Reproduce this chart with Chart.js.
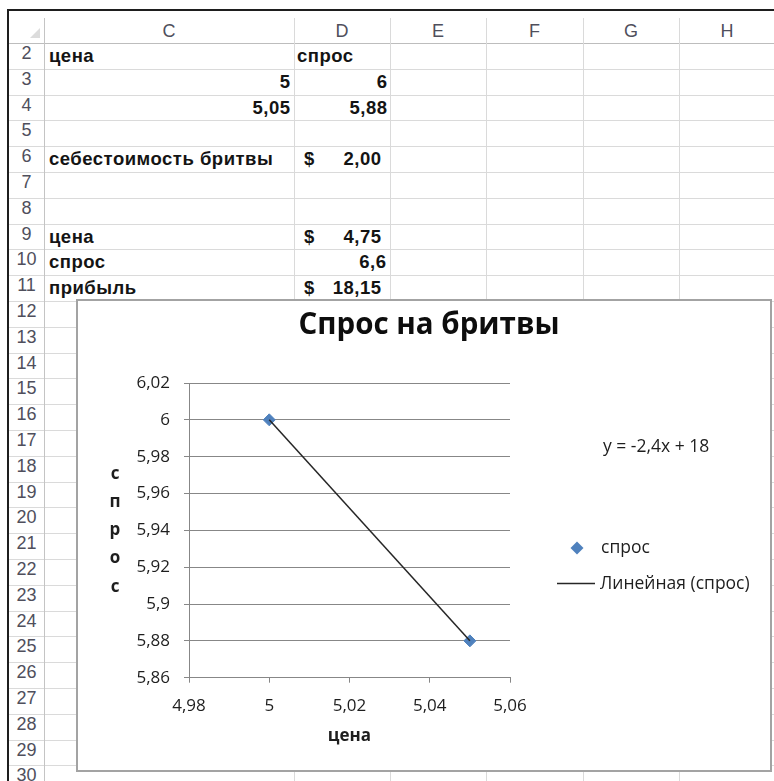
<!DOCTYPE html>
<html>
<head>
<meta charset="utf-8">
<script src="https://cdn.jsdelivr.net/npm/chart.js@4/dist/chart.umd.min.js"></script>
<style>
  html, body { margin: 0; padding: 0; background: #fff; }
  #sheet { position: relative; width: 774px; height: 781px; overflow: hidden; font-family: "Liberation Sans", Arial, sans-serif; }
  .hl { position: absolute; height: 1px; background: #dadada; }
  .vl { position: absolute; width: 1px; background: #dadada; }
  .rh { position: absolute; left: 9px; width: 35px; text-align: center; font-size: 18px; color: #4f4f5c; }
  .ch { position: absolute; top: 18px; height: 25px; line-height: 27px; text-align: center; font-size: 18px; color: #4f4f5c; }
  .cell { position: absolute; font-weight: bold; font-size: 18.5px; letter-spacing: 0.5px; color: #141414; white-space: nowrap; }
  #frameL { position: absolute; left: 7px; top: 9px; width: 2px; height: 772px; background: #1e1e1e; }
  #frameT { position: absolute; left: 7px; top: 9px; width: 767px; height: 2px; background: #1e1e1e; }
  #corner { position: absolute; left: 30px; top: 28px; width: 0; height: 0; border-left: 10px solid transparent; border-bottom: 10px solid #dcdcdc; }
  #chartBox { position: absolute; left: 76px; top: 299px; width: 696px; height: 472px; }
  #chartBox canvas { position: absolute; left: 0; top: 0; background: #fff; }
  #chartBorder { position: absolute; left: 76px; top: 299px; width: 696px; height: 473px; box-sizing: border-box; border: 2px solid #a3a3a3; pointer-events: none; }
</style>
</head>
<body>
<div id="sheet">
  <div id="grid"></div>
  <div id="frameL"></div>
  <div id="frameT"></div>
  <div id="corner"></div>
  <div id="chartBox"><canvas id="DemandChart" width="696" height="472"></canvas></div>
  <div id="chartBorder"></div>
</div>
<script>
(function () {
  "use strict";

  // chart data
  const price = [5, 5.05];
  const demand = [6, 5.88];
  const xTicks = [4.98, 5, 5.02, 5.04, 5.06];
  const yTicks = [5.86, 5.88, 5.9, 5.92, 5.94, 5.96, 5.98, 6, 6.02];
  const seriesName = 'спрос';
  const trendName = 'Линейная (спрос)';
  const chartTitle = 'Спрос на бритвы';
  const xTitle = 'цена';
  const yTitle = 'спрос';

  // sheet columns / rows
  const colNames = ['C', 'D', 'E', 'F', 'G', 'H'];
  const colEdges = [44, 294, 390, 486, 583, 679, 775];
  const firstRow = 2, lastRow = 30;
  const rowTop0 = 43, rowH = 25.8;

  // Excel style number: comma decimal
  function fmt(v) {
    return String(+v.toFixed(2)).replace('.', ',');
  }
  function money(v) {
    return v.toFixed(2).replace('.', ',');
  }

  // ---------- spreadsheet ----------
  const grid = document.getElementById('grid');
  function add(cls, css, text) {
    const d = document.createElement('div');
    d.className = cls;
    Object.assign(d.style, css);
    if (text != null) d.textContent = text;
    grid.appendChild(d);
  }
  const rowTop = r => rowTop0 + (r - firstRow) * rowH;

  add('hl', { left: '9px', top: '43px', width: '765px', background: '#bdbdbd' });
  for (let r = firstRow; r <= lastRow; r++) {
    const t = rowTop(r);
    add('hl', { left: '9px', top: Math.round(t + rowH) + 'px', width: '765px' });
    add('rh', { top: (t - 2) + 'px', height: rowH + 'px', lineHeight: rowH + 'px' }, String(r));
  }
  add('vl', { left: '44px', top: '18px', height: '763px', background: '#c4c4c4' });
  for (let i = 1; i < colEdges.length - 1; i++) {
    add('vl', { left: colEdges[i] + 'px', top: '18px', height: '763px' });
  }
  colNames.forEach((c, i) => {
    add('ch', { left: colEdges[i] + 'px', width: (colEdges[i + 1] - colEdges[i]) + 'px' }, c);
  });

  // cell text: [row, x, align, text]
  const cost = 2, bestPrice = 4.75, bestDemand = 6.6;
  const profit = (bestPrice - cost) * bestDemand;
  const cells = [
    [2, 49, 'L', 'цена'], [2, 297, 'L', 'спрос'],
    [3, 290, 'R', fmt(price[0])], [3, 387, 'R', fmt(demand[0])],
    [4, 290, 'R', fmt(price[1])], [4, 387, 'R', fmt(demand[1])],
    [6, 49, 'L', 'себестоимость бритвы'], [6, 304, 'L', '$'], [6, 381, 'R', money(cost)],
    [9, 49, 'L', 'цена'], [9, 304, 'L', '$'], [9, 381, 'R', money(bestPrice)],
    [10, 49, 'L', 'спрос'], [10, 386, 'R', fmt(bestDemand)],
    [11, 49, 'L', 'прибыль'], [11, 304, 'L', '$'], [11, 381, 'R', money(profit)]
  ];
  cells.forEach(([r, x, al, txt]) => {
    const css = { top: rowTop(r) + 'px', height: rowH + 'px', lineHeight: rowH + 'px' };
    if (al === 'L') css.left = x + 'px'; else css.right = (774 - x - 0.5) + 'px';
    add('cell', css, txt);
  });

  // ---------- chart ----------
  // least squares trendline through the series
  const n = price.length;
  const mx = price.reduce((a, b) => a + b, 0) / n;
  const my = demand.reduce((a, b) => a + b, 0) / n;
  let sxy = 0, sxx = 0;
  for (let i = 0; i < n; i++) {
    sxy += (price[i] - mx) * (demand[i] - my);
    sxx += (price[i] - mx) * (price[i] - mx);
  }
  const slope = sxy / sxx;
  const icpt = my - slope * mx;
  const trendX = [Math.min(...price), Math.max(...price)];
  const trendPts = trendX.map(x => ({ x: x, y: slope * x + icpt }));
  const eqText = 'y = ' + fmt(slope) + 'x ' + (icpt < 0 ? '- ' : '+ ') + fmt(Math.abs(icpt));

  const blue = '#4f81bd';
  const axisGray = '#878787';
  const textCol = '#1e1e1e';
  const font = '"Open Sans", "Noto Sans", sans-serif';

  // title, vertical axis caption, equation and legend
  const extras = {
    id: 'extras',
    afterDraw(chart) {
      const ctx = chart.ctx;
      const a = chart.chartArea;
      ctx.save();
      ctx.fillStyle = '#0d0d0d';
      ctx.textAlign = 'center';
      ctx.textBaseline = 'middle';
      ctx.font = 'bold 29.5px ' + font;
      ctx.fillText(chartTitle, 353, 27);

      ctx.fillStyle = textCol;
      ctx.font = 'bold 17px ' + font;
      const letters = Array.from(yTitle);
      const mid = (a.top + a.bottom) / 2 + 2;
      letters.forEach((ch, i) => {
        ctx.fillText(ch, 39, mid + (i - (letters.length - 1) / 2) * 28.3 - 2);
      });

      ctx.textAlign = 'left';
      ctx.font = '17.5px ' + font;
      ctx.fillText(eqText, 527, 148);

      // legend
      const ds0 = chart.data.datasets[0];
      ctx.fillStyle = ds0.backgroundColor;
      ctx.beginPath();
      ctx.moveTo(501 - 6.5, 249); ctx.lineTo(501, 249 - 6.5);
      ctx.lineTo(501 + 6.5, 249); ctx.lineTo(501, 249 + 6.5);
      ctx.closePath(); ctx.fill();
      ctx.fillStyle = textCol;
      ctx.fillText(seriesName, 525, 249);

      const ds1 = chart.data.datasets[1];
      ctx.strokeStyle = ds1.borderColor;
      ctx.lineWidth = ds1.borderWidth;
      ctx.beginPath();
      ctx.moveTo(481, 284.5); ctx.lineTo(519, 284.5);
      ctx.stroke();
      ctx.fillText(trendName, 524, 285);
      ctx.restore();
    }
  };

  const cts = document.getElementById('DemandChart').getContext('2d');
  new Chart(cts, {
    type: 'scatter',
    data: {
      datasets: [{
        label: seriesName,
        data: price.map((x, i) => ({ x: x, y: demand[i] })),
        pointStyle: 'rectRot',
        pointRadius: 6,
        backgroundColor: blue,
        borderColor: blue,
        borderWidth: 1,
        order: 1
      }, {
        label: trendName,
        data: trendPts,
        showLine: true,
        pointRadius: 0,
        borderColor: '#262626',
        borderWidth: 1.5,
        order: 0
      }]
    },
    options: {
      responsive: false,
      animation: false,
      devicePixelRatio: 1,
      layout: { padding: { left: 0, top: 84, right: 262, bottom: 0 } },
      plugins: {
        legend: { display: false },
        tooltip: { enabled: false },
        title: { display: false }
      },
      scales: {
        x: {
          type: 'linear',
          min: xTicks[0],
          max: xTicks[xTicks.length - 1],
          afterBuildTicks: s => { s.ticks = xTicks.map(v => ({ value: v })); },
          afterFit: s => { s.height = 93.3; },
          grid: { drawOnChartArea: false, tickLength: 5, tickColor: axisGray, color: axisGray },
          border: { color: axisGray, width: 1 },
          ticks: {
            padding: 13, maxRotation: 0, autoSkip: false, color: textCol,
            font: { family: font, size: 17 },
            callback: v => fmt(v)
          },
          title: {
            display: true, text: xTitle, color: textCol,
            font: { family: font, size: 17, weight: 'bold' },
            padding: { top: 0, bottom: 25 }
          }
        },
        y: {
          type: 'linear',
          min: yTicks[0],
          max: yTicks[yTicks.length - 1],
          afterBuildTicks: s => { s.ticks = yTicks.map(v => ({ value: v })); },
          afterFit: s => { s.width = 113; },
          grid: { color: axisGray, tickLength: 5, tickColor: axisGray },
          border: { color: axisGray, width: 1 },
          ticks: {
            padding: 14, color: textCol,
            font: { family: font, size: 17 },
            callback: v => fmt(v)
          }
        }
      }
    },
    plugins: [extras]
  });
})();
</script>
</body>
</html>
